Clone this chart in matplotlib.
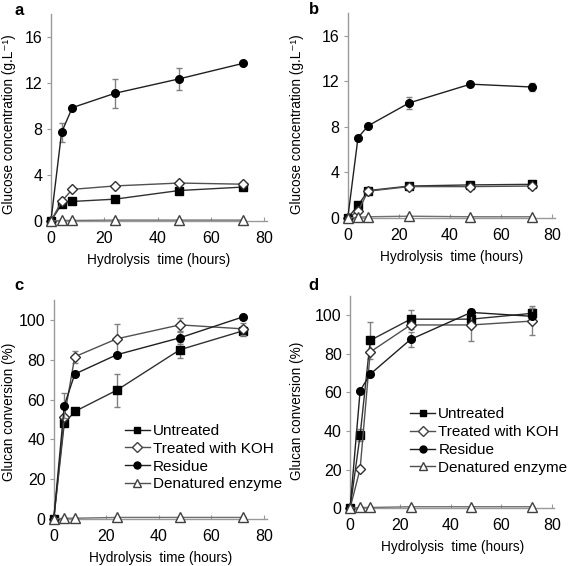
import matplotlib
matplotlib.use("Agg")
import matplotlib.pyplot as plt
import numpy as np

plt.rcParams['font.family'] = ['Liberation Sans', 'DejaVu Sans']

time = [0, 4, 8, 24, 48, 72]
series_names = ["Untreated", "Treated with KOH", "Residue", "Denatured enzyme"]

# Panel a: glucose concentration (g/L)
a_untreated = [0, 1.45, 1.7, 1.9, 2.65, 2.95]
a_koh = [0, 1.7, 2.75, 3.05, 3.3, 3.2]
a_residue = [0, 7.7, 9.85, 11.1, 12.35, 13.7]
a_denat = [0, 0.05, 0.05, 0.08, 0.08, 0.08]
a_untreated_err = [0, 0, 0, 0, 0, 0]
a_koh_err = [0, 0, 0, 0, 0, 0]
a_residue_err = [0, 0.85, 0, 1.25, 0.95, 0.15]
a_denat_err = [0, 0, 0, 0, 0, 0]

# Panel b
b_untreated = [0, 1.1, 2.4, 2.8, 2.9, 2.95]
b_koh = [0, 0.6, 2.35, 2.75, 2.75, 2.8]
b_residue = [0, 7.05, 8.1, 10.1, 11.75, 11.5]
b_denat = [0, 0.05, 0.1, 0.15, 0.1, 0.1]
b_untreated_err = [0, 0, 0, 0, 0, 0]
b_koh_err = [0, 0, 0, 0, 0, 0]
b_residue_err = [0, 0, 0, 0.55, 0, 0.35]
b_denat_err = [0, 0, 0, 0, 0, 0]

# Panel c: glucan conversion (%)
c_untreated = [0, 48, 54, 64.7, 85, 94.5]
c_koh = [0, 51, 81.5, 90.5, 97.5, 95.5]
c_residue = [0, 57, 72.8, 82.5, 91, 101.5]
c_denat = [0, 0.4, 0.4, 0.8, 0.8, 0.8]
c_untreated_err = [0, 0, 0, 8.2, 4, 2.5]
c_koh_err = [0, 0, 3, 7.2, 3.3, 3]
c_residue_err = [0, 6.5, 0, 0, 3, 0]
c_denat_err = [0, 0, 0, 0, 0, 0]

# Panel d
d_untreated = [0, 38, 87, 98, 98, 101]
d_koh = [0, 20.5, 81, 95, 95, 97]
d_residue = [0, 61, 69.5, 87.5, 101.5, 99.5]
d_denat = [0, 0.4, 0.4, 0.8, 0.8, 0.8]
d_untreated_err = [0, 3, 9.5, 5, 0, 4]
d_koh_err = [0, 0, 0, 0, 8.5, 7]
d_residue_err = [0, 0, 0, 4, 0, 0]
d_denat_err = [0, 0, 0, 0, 0, 0]

panel_labels = ["a", "b", "c", "d"]
ylabels = ["Glucose concentration (g.L\u207b\u00b9)", "Glucose concentration (g.L\u207b\u00b9)",
           "Glucan conversion (%)", "Glucan conversion (%)"]
xlabel = "Hydrolysis  time (hours)"
x_ticks = [0, 20, 40, 60, 80]
conc_ticks = [0, 4, 8, 12, 16]
conv_ticks = [0, 20, 40, 60, 80, 100]

fig = plt.figure(figsize=(5.72, 5.66), dpi=100)
positions = [
    [0.089, 0.6095, 0.378, 0.366],
    [0.608, 0.615, 0.362, 0.362],
    [0.094, 0.083, 0.372, 0.387],
    [0.612, 0.102, 0.357, 0.375],
]
panels = [
    (a_untreated, a_koh, a_residue, a_denat, a_untreated_err, a_koh_err, a_residue_err, a_denat_err),
    (b_untreated, b_koh, b_residue, b_denat, b_untreated_err, b_koh_err, b_residue_err, b_denat_err),
    (c_untreated, c_koh, c_residue, c_denat, c_untreated_err, c_koh_err, c_residue_err, c_denat_err),
    (d_untreated, d_koh, d_residue, d_denat, d_untreated_err, d_koh_err, d_residue_err, d_denat_err),
]

styles = [
    dict(marker='s', mfc='black', mec='black', ms=5.2, color='#303030'),
    dict(marker='D', mfc='white', mec='#303030', ms=5.2, color='#505050'),
    dict(marker='o', mfc='black', mec='black', ms=5.5, color='#202020'),
    dict(marker='^', mfc='white', mec='#404040', ms=6.5, color='#707070'),
]
leg_styles = [
    dict(marker='s', mfc='black', mec='black', ms=5, color='#202020'),
    dict(marker='D', mfc='white', mec='#404040', ms=4.8, color='#505050'),
    dict(marker='o', mfc='black', mec='black', ms=5, color='#202020'),
    dict(marker='^', mfc='white', mec='#404040', ms=6, color='#505050'),
]
label_pos = [(0.026, 0.9735), (0.540, 0.976), (0.026, 0.4876), (0.539, 0.4876)]
ylabel_coords = [(-0.162, 0.47), (-0.213, 0.46), (-0.178, 0.49), (-0.225, 0.457)]
legend_anchor = {2: (0.333, 0.434), 3: (0.294, 0.476)}

for i, (pos, data) in enumerate(zip(positions, panels)):
    ax = fig.add_axes(pos)
    vals = data[:4]
    errs = data[4:]
    order = [3, 0, 1, 2]
    for k in order:
        ax.errorbar(time, vals[k], yerr=errs[k], ecolor='#808080', elinewidth=1,
                    capsize=2.2, capthick=1, lw=1, zorder=3 + k, clip_on=False,
                    **styles[k])
    ax.set_xlim(0, 81)
    if i < 2:
        ax.set_ylim(0, 18)
        ax.set_yticks(conc_ticks)
    else:
        ax.set_ylim(0, 110)
        ax.set_yticks(conv_ticks)
    ax.set_xticks(x_ticks)
    for s in ['top', 'right']:
        ax.spines[s].set_visible(False)
    for s in ['left', 'bottom']:
        ax.spines[s].set_color('#999999')
        ax.spines[s].set_linewidth(1)
    ax.tick_params(axis='x', direction='in', length=3, color='#999999', labelsize=11.5, pad=7)
    ax.tick_params(axis='y', direction='out', length=3, color='#999999', labelsize=11.5, pad=3)
    ax.set_xlabel(xlabel, fontsize=9.8, labelpad=5)
    ax.set_ylabel(ylabels[i], fontsize=9.8)
    ax.yaxis.set_label_coords(*ylabel_coords[i])
    fig.text(label_pos[i][0], label_pos[i][1], panel_labels[i], fontsize=12,
             fontweight='bold', va='baseline')
    if i >= 2:
        handles = []
        for k in range(4):
            h, = ax.plot([], [], lw=1, **leg_styles[k])
            handles.append(h)
        ax.legend(handles, series_names, loc='upper left', bbox_to_anchor=legend_anchor[i],
                  frameon=False, fontsize=11, handlelength=1.65, handletextpad=0.2,
                  labelspacing=0.25, borderaxespad=0, borderpad=0)

fig.savefig("out.png", dpi=100)
